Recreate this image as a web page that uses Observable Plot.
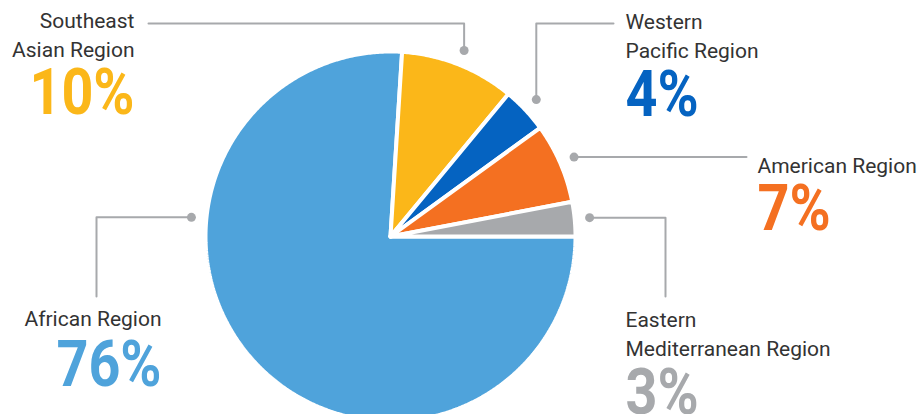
<!DOCTYPE html>
<html><head><meta charset="utf-8">
<script src="https://cdn.jsdelivr.net/npm/d3@7"></script>
<script src="https://cdn.jsdelivr.net/npm/@observablehq/plot@0.6"></script>
<style>body{margin:0;background:#fff;} svg{display:block;}</style>
</head><body><div id="chart"></div>
<script>
// ---- data ----
const regions = ["African Region", "Southeast Asian Region", "Western Pacific Region", "American Region", "Eastern Mediterranean Region"];
const labelLines = ["African Region", "Southeast\nAsian Region", "Western\nPacific Region", "American Region", "Eastern\nMediterranean Region"];
const shares = [76, 10, 4, 7, 3];
const colors = ["#4FA3DB", "#FBB719", "#0563C1", "#F47021", "#A7A9AC"];

// ---- layout (pixels) ----
const CX = 390, CY = 236, R = 185, DOT_R = 200;
const labelLayout = [
  {x: 161, anchor: "end",   nameY: 325, pctY: 385, dotAngle: 275.5, elbow: [[96, null], [96, 296]]},
  {x: 134, anchor: "end",   nameY: 56,  pctY: 113, elbow: [[null, 23], [148, 23]]},
  {x: 625, anchor: "start", nameY: 57,  pctY: 115, elbow: [[null, 23], [613, 23]]},
  {x: 757, anchor: "start", nameY: 172, pctY: 229, elbow: [[746, null]]},
  {x: 625, anchor: "start", nameY: 355, pctY: 413, elbow: [[665, null], [665, 296]]}
];

const arcs = d3.pie().sort(null).value(d => d)
  .startAngle(Math.PI / 2).endAngle(Math.PI / 2 + 2 * Math.PI)(shares);

const px = (a, r) => CX + r * Math.sin(a);
const py = (a, r) => CY - r * Math.cos(a);

const slicePts = [];
arcs.forEach((a, i) => {
  slicePts.push({region: regions[i], color: colors[i], x: CX, y: CY});
  const n = Math.max(2, Math.ceil((a.endAngle - a.startAngle) / (Math.PI / 360)));
  for (let k = 0; k <= n; k++) {
    const t = a.startAngle + (a.endAngle - a.startAngle) * k / n;
    slicePts.push({region: regions[i], color: colors[i], x: px(t, R), y: py(t, R)});
  }
  slicePts.push({region: regions[i], color: colors[i], x: CX, y: CY});
});

const dots = [], leaders = [], names = [], pcts = [];
arcs.forEach((a, i) => {
  const L = labelLayout[i];
  const ang = L.dotAngle != null ? L.dotAngle * Math.PI / 180 : (a.startAngle + a.endAngle) / 2;
  const d = {x: px(ang, DOT_R), y: py(ang, DOT_R)};
  dots.push(d);
  leaders.push({id: i, x: d.x, y: d.y});
  for (const [ex, ey] of L.elbow) leaders.push({id: i, x: ex == null ? d.x : ex, y: ey == null ? d.y : ey});
  names.push({x: L.x, y: L.nameY, text: labelLines[i], anchor: L.anchor});
  pcts.push({x: L.x, y: L.pctY, text: shares[i] + "%", anchor: L.anchor, color: colors[i]});
});

const chart = Plot.plot({
  width: 921, height: 414, margin: 0,
  x: {type: "identity", axis: null},
  y: {type: "identity", axis: null},
  color: {type: "identity"},
  style: {fontFamily: "Roboto, sans-serif", background: "white"},
  marks: [
    Plot.line(slicePts, {x: "x", y: "y", z: "region", fill: "color", stroke: "white", strokeWidth: 4, strokeLinejoin: "miter"}),
    Plot.line(leaders, {x: "x", y: "y", z: "id", stroke: "#A7A9AC", strokeWidth: 2, curve: "linear"}),
    Plot.dot(dots, {x: "x", y: "y", r: 4.5, fill: "#A7A9AC"}),
    ...["start", "end"].map(an => Plot.text(names.filter(d => d.anchor === an), {
      x: "x", y: "y", text: "text", textAnchor: an, lineAnchor: "bottom", lineHeight: 1.38,
      fontSize: 21, fill: "#333333"})),
    ...["start", "end"].map(an => Plot.text(pcts.filter(d => d.anchor === an), {
      x: "x", y: "y", text: "text", textAnchor: an, lineAnchor: "bottom",
      fontSize: 64, fontWeight: 700, fill: "color"}))
  ]
});
// narrow the big percentage figures slightly (about their anchor point), as in the reference typeface
d3.select(chart).selectAll('g[font-size="64"] text').each(function () {
  const t = this.getAttribute("transform") || "";
  this.setAttribute("transform", t + " scale(0.87,1)");
});
document.getElementById("chart").append(chart);
</script>
</body></html>
